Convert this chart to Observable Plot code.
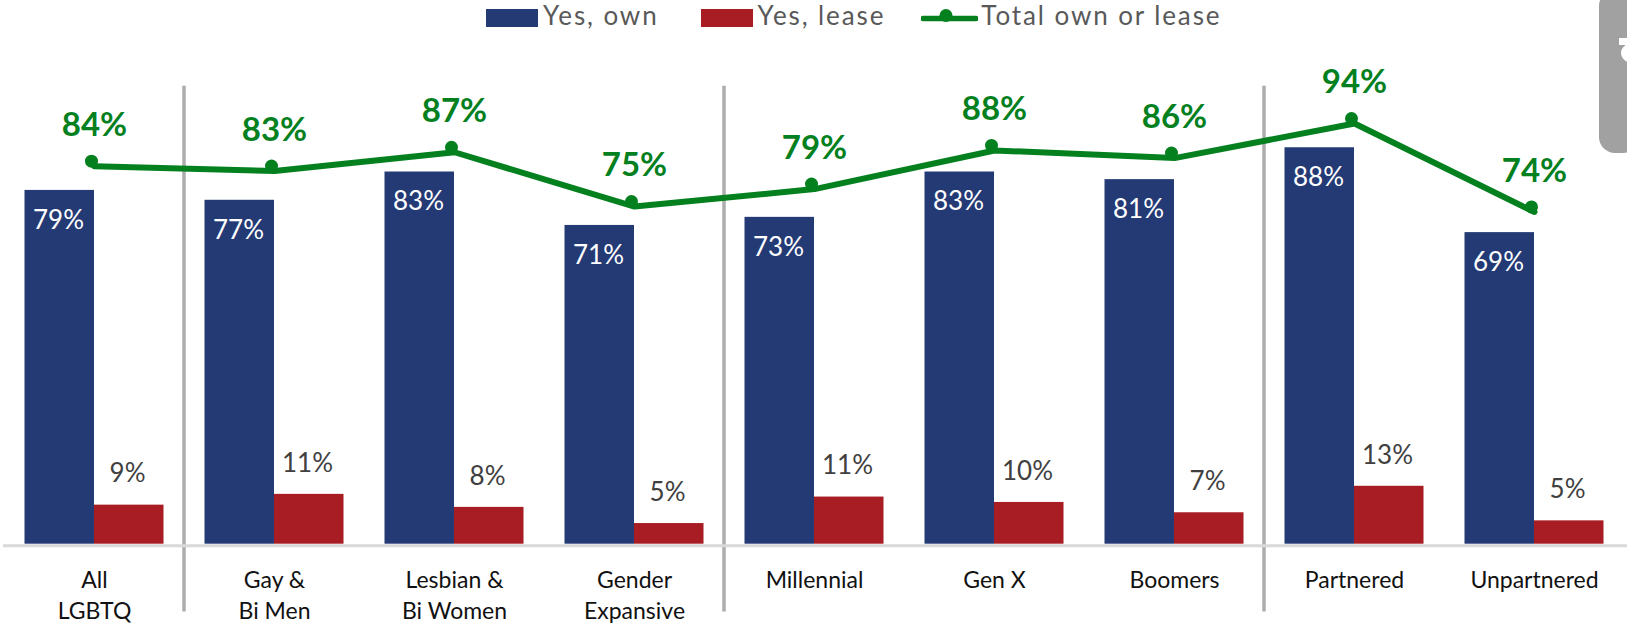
<!DOCTYPE html>
<html>
<head>
<meta charset="utf-8">
<script src="https://cdn.jsdelivr.net/npm/d3@7"></script>
<script src="https://cdn.jsdelivr.net/npm/@observablehq/plot@0.6"></script>
<style>
  html, body { margin: 0; padding: 0; background: #fff; overflow: hidden; }
  #wrap { position: relative; width: 1627px; height: 624px; overflow: hidden; font-family: Lato, sans-serif; }
  #legend { position: absolute; left: 486px; top: -3px; height: 36px; display: flex; align-items: center; color: #595959; font-size: 26px; letter-spacing: 1.9px; }
  #legend .item { display: flex; align-items: center; }
  #legend .sw { width: 52px; height: 18px; margin-right: 5px; margin-top: 6px; }
  #legend svg { display: block; margin-right: 3px; }
  #tab { position: absolute; left: 1599px; top: -10px; width: 40px; height: 163px; background: #a1a1a1; border-radius: 16px; overflow: hidden; }
  #tab .a { position: absolute; left: 22px; top: 53px; width: 24px; height: 20px; border-radius: 50%; background: #fff; }
  #tab .b { position: absolute; left: 20px; top: 48px; width: 10px; height: 7px; background: #fff; }
  svg text { font-family: Lato, sans-serif; }
</style>
</head>
<body>
<div id="wrap">
  <div id="tab"><div class="a"></div><div class="b"></div></div>
  <div id="legend"></div>
  <div id="chart"></div>
</div>
<script>
const categories = ["All\nLGBTQ", "Gay &\nBi Men", "Lesbian &\nBi Women", "Gender\nExpansive", "Millennial", "Gen X", "Boomers", "Partnered", "Unpartnered"];
const ownValues = [78.8, 76.6, 82.9, 71, 72.8, 82.9, 81.2, 88.3, 69.4];
const ownLabels = ["79%", "77%", "83%", "71%", "73%", "83%", "81%", "88%", "69%"];
const leaseValues = [8.7, 11.1, 8.2, 4.6, 10.5, 9.3, 7, 12.9, 5.2];
const leaseLabels = ["9%", "11%", "8%", "5%", "11%", "10%", "7%", "13%", "5%"];
const totalValues = [84.2, 83.1, 87.3, 75.2, 79.1, 87.7, 86, 93.7, 74];
const totalLabels = ["84%", "83%", "87%", "75%", "79%", "88%", "86%", "94%", "74%"];
const separatorsBefore = ["Gay &\nBi Men", "Millennial", "Partnered"];
const seriesNames = ["Yes, own", "Yes, lease", "Total own or lease"];
const colors = { own: "#243a75", lease: "#a81c23", total: "#04801f" };

const rows = categories.map((c, i) => ({
  category: c,
  own: ownValues[i], ownLabel: ownLabels[i],
  lease: leaseValues[i], leaseLabel: leaseLabels[i],
  total: totalValues[i], totalLabel: totalLabels[i]
}));

const chart = Plot.plot({
  width: 1627, height: 624,
  marginLeft: 3, marginRight: 0, marginTop: 0, marginBottom: 80.3,
  style: { background: "transparent", overflow: "visible" },
  x: { domain: categories, range: [4.4, 1624.4], padding: 0, label: null },
  y: { domain: [0, 121.1], axis: null },
  marks: [
    Plot.ruleX(separatorsBefore, { x: d => d, y1: -15.1, y2: 102, dx: -90.5, stroke: "#adadad", strokeWidth: 3.5 }),
    Plot.ruleY([0], { dy: 1.5, stroke: "#d9d9d9", strokeWidth: 3 }),
    Plot.barY(rows, { x: "category", y: "own", fill: colors.own, insetLeft: 20.5, insetRight: 90 }),
    Plot.barY(rows, { x: "category", y: "lease", fill: colors.lease, insetLeft: 90, insetRight: 20.5 }),
    Plot.text(rows, { x: "category", y: "own", text: "ownLabel", dx: -36, dy: 30, fill: "white", fontSize: 26 }),
    Plot.text(rows, { x: "category", y: "lease", text: "leaseLabel", dx: 33, dy: -31, fill: "#404040", fontSize: 26 }),
    Plot.line(rows, { x: "category", y: "total", stroke: colors.total, strokeWidth: 6 }),
    Plot.dot(rows, { x: "category", y: "total", r: 6.5, fill: colors.total, dx: -3, dy: -5 }),
    Plot.text(rows, { x: "category", y: "total", text: "totalLabel", dy: -41, fill: colors.total, fontSize: 33, fontWeight: "bold" }),
    Plot.axisX({ tickSize: 0, tickPadding: 21, fontSize: 23, lineHeight: 1.38, label: null, color: "#111", lineAnchor: "top" })
  ]
});
document.getElementById("chart").appendChild(chart);
chart.querySelectorAll("text").forEach(t => { if (t.getAttribute("font-size") === "23") t.style.letterSpacing = "0.9px"; });

const legend = document.getElementById("legend");
const swatchColors = [colors.own, colors.lease];
const gaps = ["42px", "36px", "0"];
seriesNames.forEach((name, i) => {
  const item = document.createElement("div");
  item.className = "item";
  item.style.marginRight = gaps[i];
  if (i < 2) {
    const sw = document.createElement("div");
    sw.className = "sw";
    sw.style.background = swatchColors[i];
    item.appendChild(sw);
  } else {
    const ns = "http://www.w3.org/2000/svg";
    const s = document.createElementNS(ns, "svg");
    s.setAttribute("width", 57); s.setAttribute("height", 36);
    const l = document.createElementNS(ns, "path");
    l.setAttribute("d", "M2 21.5H55");
    l.setAttribute("stroke", colors.total); l.setAttribute("stroke-width", 5.5); l.setAttribute("stroke-linecap", "round");
    const c = document.createElementNS(ns, "circle");
    c.setAttribute("cx", 25); c.setAttribute("cy", 18.5); c.setAttribute("r", 6.5); c.setAttribute("fill", colors.total);
    s.append(l, c);
    item.appendChild(s);
  }
  const t = document.createElement("span");
  t.textContent = name;
  item.appendChild(t);
  legend.appendChild(item);
});
</script>
</body>
</html>
